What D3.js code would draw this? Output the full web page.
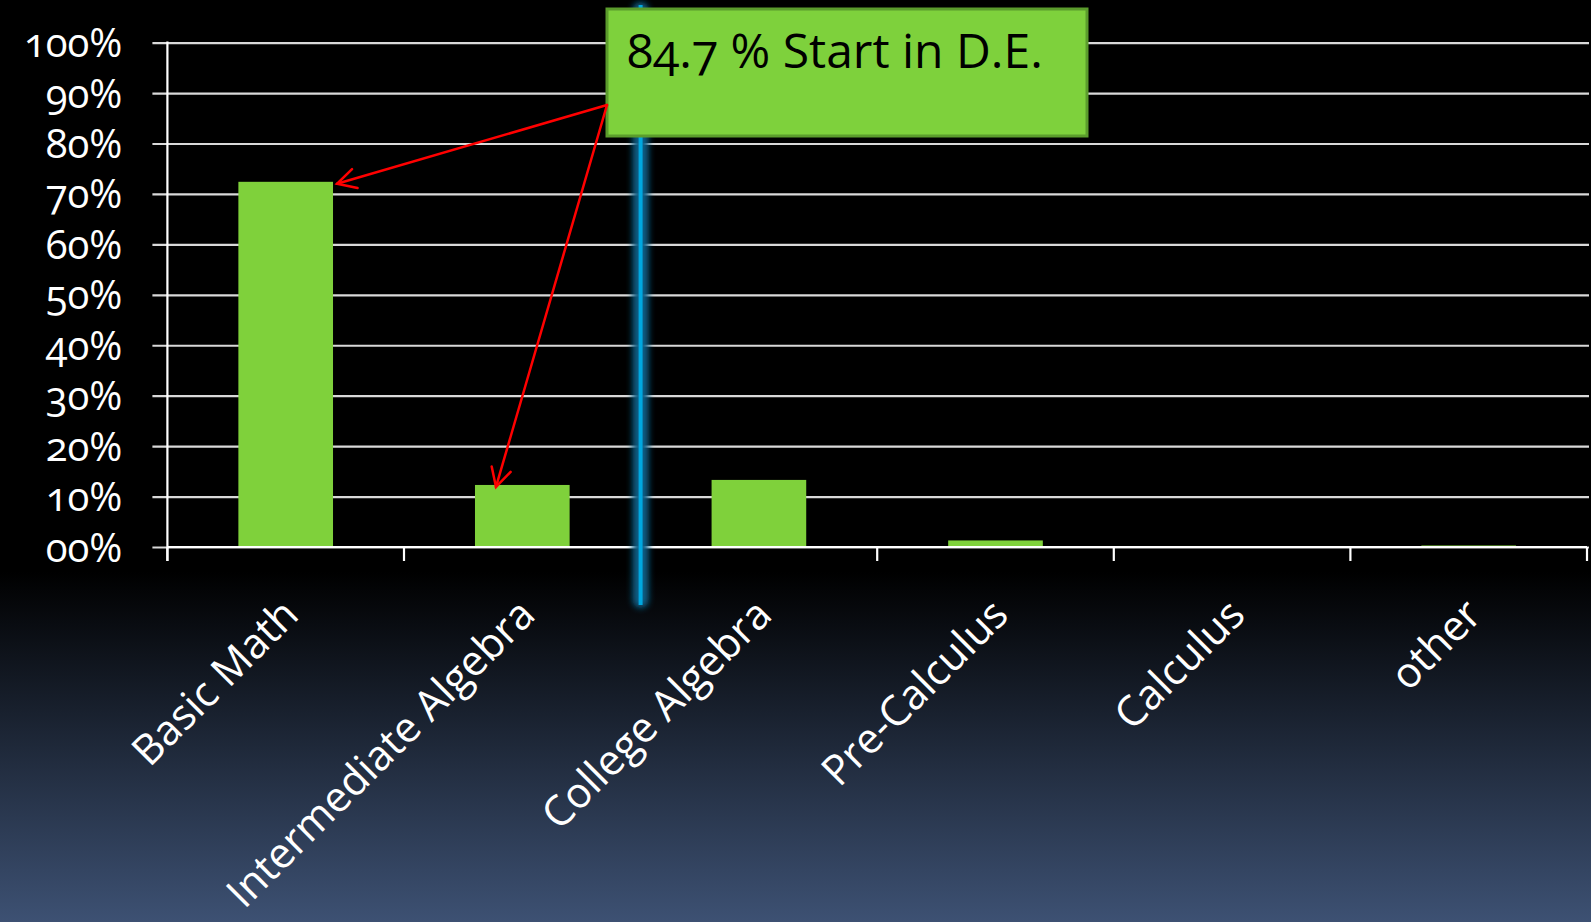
<!DOCTYPE html>
<html>
<head>
<meta charset="utf-8">
<script src="https://cdn.jsdelivr.net/npm/d3@7"></script>
<style>
  html, body { margin: 0; padding: 0; background: #000; overflow: hidden; }
  text { font-family: "Open Sans", "Noto Sans", sans-serif; font-variant-numeric: oldstyle-nums; }
</style>
</head>
<body>
<svg id="chart" width="1591" height="922"></svg>
<script>
// Starting math course, share of students
const categories = ["Basic Math", "Intermediate Algebra", "College Algebra", "Pre-Calculus", "Calculus", "other"];
const shares = [72.4, 12.3, 13.3, 1.3, 0, 0.3];
const tickValues = [0, 10, 20, 30, 40, 50, 60, 70, 80, 90, 100];
const tickLabels = ["00%", "10%", "20%", "30%", "40%", "50%", "60%", "70%", "80%", "90%", "100%"];
const calloutText = "84.7 % Start in D.E.";
const calloutTargets = ["Basic Math", "Intermediate Algebra"];
const dividerBefore = "College Algebra";

const W = 1591, H = 922;
const svg = d3.select("#chart");
const defs = svg.append("defs");

// slide background: black, fading to slate blue at the bottom
const bg = defs.append("linearGradient").attr("id", "bg").attr("x1", 0).attr("y1", 0).attr("x2", 0).attr("y2", 1);
bg.append("stop").attr("offset", 0).attr("stop-color", "#000");
bg.append("stop").attr("offset", 0.62).attr("stop-color", "#000");
bg.append("stop").attr("offset", 1).attr("stop-color", "#3d5173");
svg.append("rect").attr("width", W).attr("height", H).attr("fill", "url(#bg)");

const glow = defs.append("filter").attr("id", "glow")
  .attr("x", "-100%").attr("width", "300%").attr("y", "-5%").attr("height", "110%");
glow.append("feGaussianBlur").attr("stdDeviation", 3);

const plotL = 167.4, plotR = 1587, plotT = 42.6, plotB = 547;

const x = d3.scaleBand().domain(categories).range([plotL, plotR]).padding(0);
const y = d3.scaleLinear().domain([0, 100]).range([plotB, plotT]);

// horizontal gridlines with left tick stubs
const yAxis = d3.axisLeft(y).tickValues(tickValues)
  .tickFormat((d, i) => tickLabels[i])
  .tickSizeInner(-(plotR - plotL + 2)).tickSizeOuter(0).tickPadding(45);
const gy = svg.append("g").attr("transform", `translate(${plotL},0)`).call(yAxis);
gy.select(".domain").remove();
gy.selectAll(".tick line").attr("x1", -15).attr("stroke", "#d9d9d9").attr("stroke-width", 2.2);
gy.selectAll(".tick text").attr("fill", "#fff").attr("font-size", 40).attr("dy", "0.35em");

// vertical value axis line
svg.append("line").attr("x1", plotL).attr("x2", plotL).attr("y1", plotT - 1).attr("y2", plotB + 14)
  .attr("stroke", "#fff").attr("stroke-width", 2.2);

// bars
const barW = x.bandwidth() * 0.4;
svg.append("g").selectAll("rect").data(categories).join("rect")
  .attr("x", d => x(d) + (x.bandwidth() - barW) / 2)
  .attr("width", barW)
  .attr("y", (d, i) => y(shares[i]))
  .attr("height", (d, i) => plotB - y(shares[i]))
  .attr("fill", "#7fd13b");

// category axis with ticks at band boundaries
svg.append("line").attr("x1", plotL).attr("x2", plotR).attr("y1", plotB).attr("y2", plotB)
  .attr("stroke", "#fff").attr("stroke-width", 2.2);
const bounds = categories.map(c => x(c)).concat([plotR]);
svg.append("g").selectAll("line").data(bounds).join("line")
  .attr("x1", d => d).attr("x2", d => d).attr("y1", plotB).attr("y2", plotB + 14)
  .attr("stroke", "#fff").attr("stroke-width", 2.2);

svg.append("g").selectAll("text").data(categories).join("text")
  .attr("transform", d => `translate(${x(d) + x.bandwidth() / 2 + 15},${617}) rotate(-45)`)
  .attr("text-anchor", "end")
  .attr("fill", "#fff").attr("font-size", 42)
  .text(d => d);

// glowing divider between developmental and college-level courses
const divX = x(dividerBefore);
svg.append("rect").attr("x", divX - 8).attr("width", 16).attr("y", 2).attr("height", 606).attr("rx", 8)
  .attr("fill", "#0d5f86").attr("filter", "url(#glow)");
svg.append("line").attr("x1", divX).attr("x2", divX).attr("y1", 5).attr("y2", 605)
  .attr("stroke", "#00a8e0").attr("stroke-width", 4);

// callout box
const box = { x: 607, y: 9, w: 480, h: 127 };
svg.append("rect").attr("x", box.x).attr("y", box.y).attr("width", box.w).attr("height", box.h)
  .attr("fill", "#7ed13c").attr("stroke", "#5b9c2c").attr("stroke-width", 3);
svg.append("text").attr("x", box.x + 20).attr("y", 68)
  .attr("fill", "#000").attr("font-size", 48).text(calloutText);

// red arrows from the callout to the bars it sums
const start = [box.x, 105];
const tips = [
  [x(calloutTargets[0]) + (x.bandwidth() + barW) / 2 + 4, y(shares[0]) + 2],
  [x(calloutTargets[1]) + (x.bandwidth() - barW) / 2 + 21, y(shares[1]) + 2]
];
const arrows = svg.append("g").attr("stroke", "#ff0000").attr("stroke-width", 2.5).attr("fill", "none")
  .attr("stroke-linecap", "round");
tips.forEach(t => {
  arrows.append("line").attr("x1", start[0]).attr("y1", start[1]).attr("x2", t[0]).attr("y2", t[1]);
  const ang = Math.atan2(start[1] - t[1], start[0] - t[0]);
  const len = 21, spread = 28 * Math.PI / 180;
  const p1 = [t[0] + len * Math.cos(ang + spread), t[1] + len * Math.sin(ang + spread)];
  const p2 = [t[0] + len * Math.cos(ang - spread), t[1] + len * Math.sin(ang - spread)];
  arrows.append("path").attr("d", d3.line()([p1, t, p2]));
});
</script>
</body>
</html>
